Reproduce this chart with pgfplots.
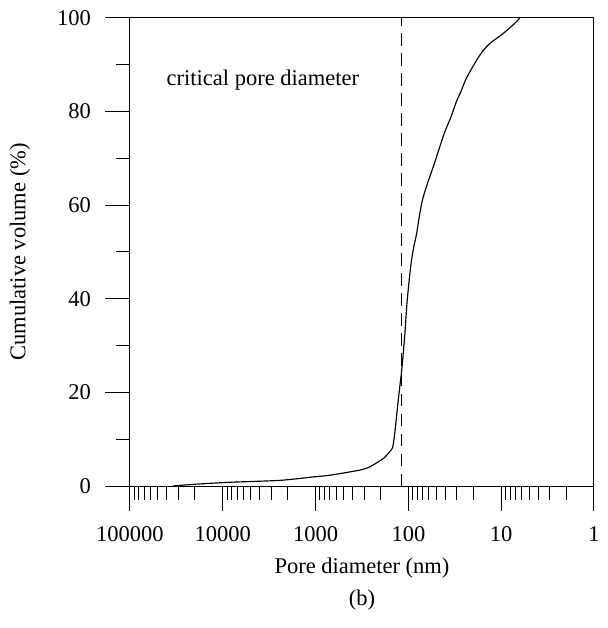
\documentclass[border=0pt]{standalone}
\usepackage{fontspec}
\setmainfont{Liberation Serif}
\usepackage{pgfplots}
\pgfplotsset{compat=1.18}
\begin{document}
\begin{tikzpicture}[x=1pt,y=1pt]
\path[use as bounding box] (-78,-85.2) rectangle (286.2,291.6);
\begin{axis}[
  at={(0,0)}, anchor=south west,
  scale only axis, width=278.4pt, height=280.8pt,
  font=\fontsize{13.5}{16}\selectfont,
  xmode=log, x dir=reverse,
  xmin=1, xmax=100000, ymin=0, ymax=100,
  xtick={1,10,100,1000,10000,100000},
  xticklabels={1,10,100,1000,10000,100000},
  ytick={0,20,40,60,80,100},
  minor ytick={10,30,50,70,90},
  xtick pos=bottom, ytick pos=left,
  tick align=outside,
  major tick length=15pt, minor tick length=8.5pt,
  tick style={black, line width=0.6pt},
  axis line style={line width=0.6pt},
  /pgf/number format/assume math mode=true,
  xlabel={Pore diameter (nm)},
  ylabel={Cumulative volume (\%)},
  every axis x label/.style={at={(axis description cs:0.5,0)}, yshift=-49.5pt, anchor=center},
  every axis y label/.style={at={(axis description cs:0,0.5)}, xshift=-66pt, rotate=90, anchor=center},
  xticklabel style={anchor=center, yshift=-13.8pt},
  yticklabel style={anchor=east, xshift=-5pt},
  clip=false,
]
\addplot[black, line width=0.7pt, smooth, tension=0.35] coordinates {
(34400,0) (19100,0.4) (8360,0.8) (2420,1.2) (990,2.0) (700,2.3) (333,3.4) (260,4.1)
(188,5.8) (166,6.9) (147.6,8.3) (139,12) (128.5,18.4) (117,25.5) (109,32.7)
(103,39.7) (94.5,46.9) (88.5,50.6) (81.4,54) (75.7,58) (70.2,61.3) (61.5,65) (54,68.2) (41,75.4) (35.2,78.6)
(29.9,82.5) (27.5,84) (23.9,87) (18.4,91) (15.7,93) (13.2,94.6) (9.5,96.7) (7.1,98.9) (6.3,100)
};
\addplot[black, line width=0.6pt, dash pattern=on 7.5pt off 4.5pt] coordinates {(118,0) (118,100)};
\node[anchor=center] at (axis cs:3700,86.8) {critical pore diameter};
\node[anchor=center] at (axis description cs:0.5,0) [yshift=-68.4pt] {(b)};
\end{axis}
\end{tikzpicture}
\end{document}
